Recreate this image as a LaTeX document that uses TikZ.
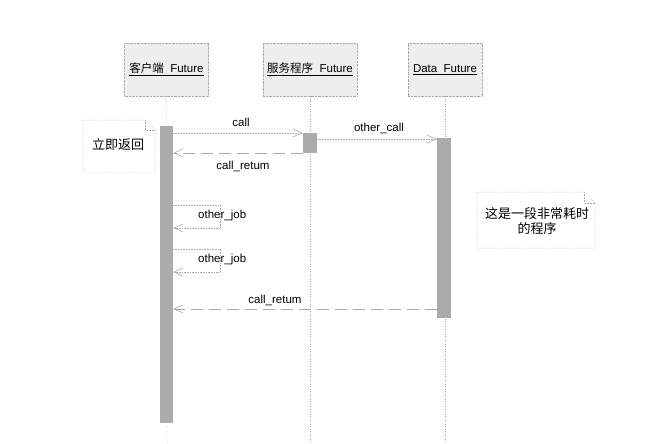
\documentclass[tikz,border=0pt]{standalone}
\usepackage{fontspec}
\setmainfont{Liberation Sans}
\newfontfamily\cjk{Noto Sans CJK SC}
\usetikzlibrary{arrows.meta,shapes.misc}
\definecolor{linegray}{HTML}{A8A8A8}
\definecolor{bargray}{HTML}{ABABAB}
\definecolor{headfill}{HTML}{EEEEEE}
\tikzset{
  head/.style={draw=linegray, densely dotted, fill=headfill, minimum width=84pt, minimum height=53pt, inner sep=0pt, font=\fontsize{11.5}{13}\selectfont},
  life/.style={draw=linegray, dotted, line width=0.5pt},
  bar/.style={draw=none, fill=bargray, minimum width=13pt, inner sep=0pt},
  msg/.style={draw=linegray, densely dotted, line width=0.6pt, -{Straight Barb[length=9pt,width=8pt]}},
  ret/.style={draw=linegray, dash pattern=on 12pt off 6pt, line width=0.6pt, -{Straight Barb[length=9pt,width=8pt]}},
  lbl/.style={font=\fontsize{11.5}{13}\selectfont, inner sep=1pt},
  note/.style={draw=linegray, densely dotted, line width=0.5pt}
}
\begin{document}
\begin{tikzpicture}[x=1pt,y=-1pt]
\useasboundingbox (0,0) rectangle (658,444);
% headers
\node[head] (h1) at (166.5,69.5) {\underline{{\cjk 客户端}\ \ Future}};
\node[head, minimum width=94pt] (h2) at (310,69.5) {\underline{{\cjk 服务程序}\ \ Future}};
\node[head, minimum width=74pt] (h3) at (445,69.5) {\underline{Data\ \ Future}};
% lifelines
\coordinate (e1) at (167,444);
\coordinate (e2) at (310,444);
\coordinate (e3) at (445,444);
\draw[life] (h1.south) -- (e1);
\draw[life] (h2.south) -- (e2);
\draw[life] (h3.south) -- (e3);
% activation bars
\node[bar, minimum height=297pt, anchor=north] (b1) at (166.5,126) {};
\node[bar, minimum height=20pt, anchor=north, minimum width=14pt] (b2) at (310,133) {};
\node[bar, minimum height=180pt, anchor=north, minimum width=14pt] (b3) at (444,138) {};
% notes
\draw[note] (83,120) -- (145,120) -- (155,130) -- (155,172) -- (83,172) -- cycle;
\draw[note] (145,120) -- (145,130) -- (155,130);
\node[font=\cjk\fontsize{13}{15}\selectfont] (n1) at (118,145) {立即返回};
\draw[note] (477,192) -- (584,192) -- (595,203) -- (595,248) -- (477,248) -- cycle;
\draw[note] (584,192) -- (584,203) -- (595,203);
\node[font=\cjk\fontsize{13}{15.5}\selectfont, align=center] (n2) at (537,221) {这是一段非常耗时\\的程序};
% messages
\coordinate (c1s) at (b1.east |- 0,133);
\coordinate (c1e) at (b2.west |- 0,133);
\draw[msg] (c1s) -- (c1e);
\node[lbl] (l1) at (241,122) {call};
\coordinate (c2s) at (b2.east |- 0,139);
\coordinate (c2e) at (b3.west |- 0,139);
\draw[msg] (c2s) -- (c2e);
\node[lbl] (l2) at (379,128) {other\_call};
\coordinate (c3s) at (b2.west |- 0,153);
\coordinate (c3e) at (b1.east |- 0,153);
\draw[ret] (c3s) -- (c3e);
\node[lbl] (l3) at (243,166) {call\_retum};
% self calls
\coordinate (s1a) at (b1.east |- 0,205);
\coordinate (s1b) at (b1.east |- 0,228);
\draw[msg] (s1a) -- (220,205) -- (220,228) -- (s1b);
\node[lbl, anchor=west] (l4) at (197,216) {other\_job};
\coordinate (s2a) at (b1.east |- 0,249);
\coordinate (s2b) at (b1.east |- 0,272);
\draw[msg] (s2a) -- (220,249) -- (220,272) -- (s2b);
\node[lbl, anchor=west] (l5) at (197,260) {other\_job};
\coordinate (r2s) at (b3.west |- 0,309);
\coordinate (r2e) at (b1.east |- 0,309);
\draw[ret] (r2s) -- (r2e);
\node[lbl] (l6) at (275,300) {call\_retum};
\end{tikzpicture}
\end{document}
